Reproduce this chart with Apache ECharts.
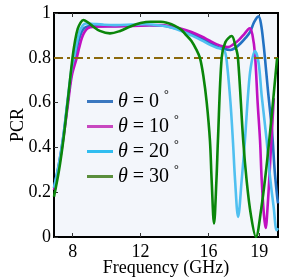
<!DOCTYPE html>
<html>
<head>
<meta charset="utf-8">
<script src="https://cdn.jsdelivr.net/npm/echarts@6/dist/echarts.min.js"></script>
<style>
html,body{margin:0;padding:0;background:#fff;}
#c{width:285px;height:280px;}
</style>
</head>
<body>
<div id="c"></div>
<script>
// Data: [frequency GHz, PCR]
var seriesNames = ['θ = 0°', 'θ = 10°', 'θ = 20°', 'θ = 30°'];
var xTicks = [8, 12, 16, 19];
var yTicks = [0, 0.2, 0.4, 0.6, 0.8, 1];
var threshold = 0.8;

var theta0 = [
  [6.9,0.22],[7.2,0.33],[7.45,0.45],[7.7,0.6],[7.95,0.74],[8.14,0.8],[8.3,0.86],[8.45,0.9],[8.6,0.925],[8.8,0.938],
  [9.1,0.942],[9.8,0.942],[10.5,0.942],[11.5,0.944],[12.5,0.945],[13.2,0.944],[13.8,0.937],[14.4,0.925],[15.0,0.908],
  [15.6,0.887],[16.1,0.865],[16.5,0.85],[16.9,0.84],[17.3,0.835],[17.6,0.845],[17.9,0.865],[18.2,0.89],[18.45,0.915],
  [18.7,0.96],[18.95,0.985],[19.1,0.95],[19.25,0.86],[19.33,0.8],[19.5,0.66],[19.75,0.47],[19.9,0.3],[20.05,0.18],[20.1,0.15]
];
var theta10 = [
  [6.9,0.21],[7.2,0.32],[7.45,0.44],[7.7,0.58],[7.95,0.72],[8.24,0.8],[8.4,0.85],[8.55,0.89],[8.7,0.915],[8.9,0.932],
  [9.2,0.938],[10.5,0.94],[11.5,0.942],[12.5,0.945],[13.2,0.946],[13.8,0.94],[14.4,0.93],[15.0,0.915],[15.6,0.895],
  [16.1,0.875],[16.5,0.86],[16.9,0.85],[17.15,0.848],[17.5,0.862],[17.8,0.88],[18.1,0.905],[18.35,0.928],[18.45,0.932],
  [18.6,0.9],[18.74,0.82],[18.9,0.6],[19.04,0.433],[19.14,0.254],[19.27,0.1],[19.37,0.04],[19.5,0.15],[19.65,0.35],
  [19.8,0.55],[19.85,0.62]
];
var theta20 = [
  [6.9,0.22],[7.2,0.33],[7.45,0.45],[7.7,0.61],[7.95,0.76],[8.08,0.8],[8.25,0.87],[8.4,0.915],[8.6,0.945],[8.8,0.953],
  [9.1,0.952],[9.8,0.948],[10.5,0.946],[11.5,0.948],[12.3,0.95],[13.2,0.944],[13.8,0.935],[14.4,0.92],[15.0,0.9],
  [15.6,0.878],[16.1,0.858],[16.5,0.845],[16.8,0.838],[16.98,0.825],[17.1,0.77],[17.3,0.6],[17.45,0.42],[17.57,0.254],
  [17.75,0.09],[17.96,0.254],[18.15,0.43],[18.35,0.65],[18.5,0.76],[18.74,0.83],[18.95,0.78],[19.14,0.63],[19.43,0.433],
  [19.63,0.27],[19.85,0.13],[20.02,0.03],[20.1,0.04]
];
var theta30 = [
  [6.9,0.18],[7.2,0.3],[7.45,0.433],[7.7,0.6],[7.99,0.8],[8.15,0.88],[8.3,0.93],[8.45,0.955],[8.63,0.969],[8.9,0.958],
  [9.2,0.94],[9.6,0.92],[10.2,0.909],[10.8,0.92],[11.4,0.94],[12.0,0.955],[12.6,0.961],[13.2,0.961],[13.6,0.955],
  [14.0,0.944],[14.4,0.925],[14.7,0.9],[15.0,0.875],[15.3,0.835],[15.5,0.8],[15.7,0.72],[15.9,0.6],[16.09,0.43],
  [16.19,0.254],[16.33,0.06],[16.47,0.25],[16.56,0.43],[16.78,0.8],[17.0,0.87],[17.37,0.897],[17.6,0.85],[17.74,0.8],
  [18.05,0.43],[18.25,0.254],[18.5,0.1],[18.8,0.0],[19.1,0.12],[19.4,0.3],[19.7,0.52],[19.9,0.68],[20.05,0.8]
];

var curveColors = ['#2272c3', '#c010c0', '#50c0f0', '#0a860a'];
var legendColors = ['#3a78c0', '#c848c0', '#30bdf0', '#5a8e3c'];
var allData = [theta0, theta10, theta20, theta30];

var serif = 'Liberation Serif';
var chart = echarts.init(document.getElementById('c'));

var series = allData.map(function (d, i) {
  var s = {
    name: seriesNames[i],
    type: 'line',
    data: d,
    smooth: 0.35,
    showSymbol: false,
    symbol: 'none',
    clip: true,
    lineStyle: { color: curveColors[i], width: 2.6 },
    itemStyle: { color: curveColors[i] },
    z: 2 + i
  };
  if (i === 0) {
    s.markLine = {
      silent: true,
      symbol: ['none', 'none'],
      label: { show: false },
      lineStyle: { color: '#8c6a0c', width: 2, type: [9, 4, 3, 4] },
      data: [{ yAxis: threshold }]
    };
  }
  return s;
});

chart.setOption({
  animation: false,
  backgroundColor: '#ffffff',
  grid: {
    left: 54, right: 7, top: 13, bottom: 43,
    containLabel: false, outerBoundsMode: 'none',
    show: true, backgroundColor: '#f3f6fb', borderColor: '#000', borderWidth: 2
  },
  legend: {
    orient: 'vertical',
    left: 82, top: 84,
    itemWidth: 26, itemHeight: 3, itemGap: 0,
    icon: 'rect',
    data: seriesNames.map(function (n, i) {
      return { name: n, itemStyle: { color: legendColors[i] } };
    }),
    formatter: function (n) {
      var v = n.replace('θ = ', '').replace('°', '');
      return '{i|θ}{t| = ' + v + ' }{s|°}';
    },
    textStyle: {
      fontFamily: serif, fontSize: 20, color: '#000', lineHeight: 25,
      rich: {
        i: { fontFamily: serif, fontStyle: 'italic', fontSize: 20, color: '#000' },
        t: { fontFamily: serif, fontSize: 20, color: '#000' },
        s: { fontFamily: serif, fontSize: 12, color: '#000', verticalAlign: 'top', padding: [0, 0, 8, 0] }
      }
    }
  },
  xAxis: [{
    type: 'value', min: 6.9, max: 20.1,
    name: 'Frequency (GHz)', nameLocation: 'middle', nameGap: 22, nameMoveOverlap: false,
    nameTextStyle: { fontFamily: serif, fontSize: 18, color: '#000' },
    axisLine: { show: true, lineStyle: { color: '#000', width: 2 } },
    axisTick: { show: true, inside: true, length: 4, customValues: xTicks, lineStyle: { color: '#333' } },
    axisLabel: { customValues: xTicks, fontFamily: serif, fontSize: 18, color: '#000', margin: 6 },
    splitLine: { show: false }
  }, {
    type: 'value', min: 6.9, max: 20.1, position: 'top',
    axisLine: { show: true, lineStyle: { color: '#000', width: 2 } },
    axisTick: { show: true, inside: true, length: 4, customValues: xTicks, lineStyle: { color: '#333' } },
    axisLabel: { show: false },
    splitLine: { show: false }
  }],
  yAxis: [{
    type: 'value', min: 0, max: 1, interval: 0.2,
    name: 'PCR', nameLocation: 'middle', nameGap: 27, nameMoveOverlap: false,
    nameTextStyle: { fontFamily: serif, fontSize: 18, color: '#000' },
    axisLine: { show: true, lineStyle: { color: '#000', width: 2 } },
    axisTick: { show: true, inside: true, length: 4, lineStyle: { color: '#333' } },
    axisLabel: { fontFamily: serif, fontSize: 18, color: '#000', margin: 3 },
    splitLine: { show: false }
  }],
  series: series
});
</script>
</body>
</html>
